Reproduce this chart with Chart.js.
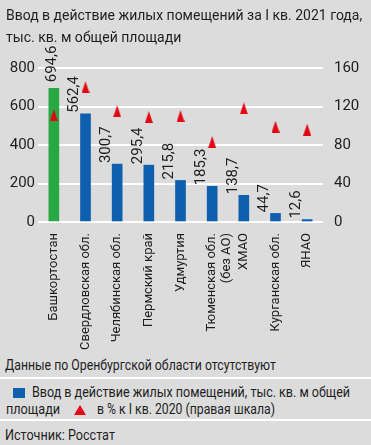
<!DOCTYPE html>
<html lang="ru">
<head>
<meta charset="utf-8">
<script src="https://cdn.jsdelivr.net/npm/chart.js@4.4.1/dist/chart.umd.min.js"></script>
<style>
  body { margin: 0; background: #dcdcdc; }
  #wrap { position: relative; width: 371px; height: 445px; overflow: hidden; background: #dcdcdc;
    font-family: Roboto, "Liberation Sans", sans-serif; color: #1e1e1e; }
  #chart { position: absolute; left: 0; top: 0; }
  .t { position: absolute; display: inline-block; white-space: nowrap; font-size: 15px; line-height: 18px;
    transform-origin: 0 0; }
  .sep { position: absolute; left: 0; width: 371px; height: 2px; background: #fff; }
  .sq { position: absolute; left: 13px; top: 388px; width: 12px; height: 10px; background: #0e5fae; }
  .tri { position: absolute; left: 74px; top: 405px; width: 0; height: 0; border-left: 6px solid transparent;
    border-right: 6px solid transparent; border-bottom: 10px solid #e30613; }
</style>
</head>
<body>
<div id="wrap">
  <canvas id="chart" width="371" height="355"></canvas>
  <div class="t" id="title1" style="left:6px; top:6px"></div>
  <div class="t" id="title2" style="left:6px; top:28px"></div>
  <div class="t" id="note" style="left:5px; top:356px"></div>
  <div class="sep" style="top:377px"></div>
  <span class="sq"></span>
  <div class="t" id="leg1" style="left:32px; top:383px"></div>
  <div class="t" id="leg2" style="left:6px; top:400px"></div>
  <span class="tri"></span>
  <div class="t" id="leg3" style="left:97px; top:400px"></div>
  <div class="sep" style="top:419px"></div>
  <div class="t" id="source" style="left:5px; top:426px"></div>
</div>
<script>
// ===== Данные =====
const regions = [
  "Башкортостан", "Свердловская обл.", "Челябинская обл.", "Пермский край", "Удмуртия",
  ["Тюменская обл.", "(без АО)"], "ХМАО", "Курганская обл.", "ЯНАО"
];
const housing = [694.6, 562.4, 300.7, 295.4, 215.8, 185.3, 138.7, 44.7, 12.6];
const pctOf2020 = [111, 140, 115, 109, 110, 83, 118, 99, 96];
const leftTicks = [0, 200, 400, 600, 800];
const rightTicks = [0, 40, 80, 120, 160];
const seriesNames = ["Ввод в действие жилых помещений, тыс. кв. м общей площади", "в % к I кв. 2020 (правая шкала)"];
const titleLines = ["Ввод в действие жилых помещений за I кв. 2021 года,", "тыс. кв. м общей площади"];
const noteText = "Данные по Оренбургской области отсутствуют";
const sourceText = "Источник: Росстат";

const FONT = "Roboto, 'Liberation Sans', sans-serif";
const BLUE = "#0e5fae";
const GREEN = "#27a844";
const RED = "#e30613";
const TEXT = "#1e1e1e";

// ===== Тексты вокруг графика =====
function putText(id, txt, width) {
  const el = document.getElementById(id);
  el.textContent = txt;
  const s = width / el.scrollWidth;
  el.style.transform = "scaleX(" + s + ")";
}
const cut = seriesNames[0].lastIndexOf(" ");
putText("title1", titleLines[0], 356);
putText("title2", titleLines[1], 175);
putText("note", noteText, 271);
putText("leg1", seriesNames[0].slice(0, cut), 318);
putText("leg2", seriesNames[0].slice(cut + 1), 54);
putText("leg3", seriesNames[1], 178);
putText("source", sourceText, 110);

// ===== Треугольник-маркер =====
const tri = document.createElement("canvas");
tri.width = 8;
tri.height = 12;
const tctx = tri.getContext("2d");
tctx.fillStyle = RED;
tctx.beginPath();
tctx.moveTo(4, 0);
tctx.lineTo(8, 12);
tctx.lineTo(0, 12);
tctx.closePath();
tctx.fill();

// ===== Подписи значений =====
const valueLabels = {
  id: "valueLabels",
  afterDatasetsDraw(chart) {
    const meta = chart.getDatasetMeta(1);
    const ctx = chart.ctx;
    ctx.save();
    ctx.fillStyle = TEXT;
    ctx.font = "15px " + FONT;
    ctx.textAlign = "left";
    ctx.textBaseline = "middle";
    meta.data.forEach((bar, i) => {
      const txt = housing[i].toFixed(1).replace(".", ",");
      let x = bar.x - 11;
      let y = bar.y - 1;
      if (i === 0) { x = bar.x - 2; y = bar.y - 6; }
      ctx.save();
      ctx.translate(x, y);
      ctx.rotate(-Math.PI / 2);
      ctx.fillText(txt, 0, 0);
      ctx.restore();
    });
    ctx.restore();
  }
};

new Chart(document.getElementById("chart"), {
  data: {
    labels: regions,
    datasets: [
      {
        type: "line",
        label: seriesNames[1],
        data: pctOf2020,
        yAxisID: "yR",
        showLine: false,
        pointStyle: tri,
        order: 0
      },
      {
        type: "bar",
        label: seriesNames[0],
        data: housing,
        yAxisID: "y",
        backgroundColor: housing.map((v, i) => i === 0 ? GREEN : BLUE),
        barThickness: 10,
        order: 1
      }
    ]
  },
  options: {
    responsive: false,
    animation: false,
    layout: { padding: { top: 68, left: 0, right: 0, bottom: 0 } },
    plugins: { legend: { display: false }, tooltip: { enabled: false } },
    scales: {
      x: {
        grid: { display: false },
        border: { display: false },
        ticks: {
          minRotation: 90, maxRotation: 90, autoSkip: false, padding: 3, color: TEXT,
          font: { family: FONT, size: 13, lineHeight: 1.15 }
        },
        afterFit: s => { s.height = 133; }
      },
      y: {
        position: "left",
        min: 0, max: 800,
        grid: { color: "#ffffff", lineWidth: 2, drawTicks: false },
        border: { display: false },
        ticks: {
          stepSize: 100, padding: 3, color: TEXT, font: { family: FONT, size: 15 },
          callback: v => leftTicks.includes(v) ? v : ""
        },
        afterFit: s => { s.width = 38; }
      },
      yR: {
        position: "right",
        min: 0, max: 160,
        grid: { display: false, drawTicks: false },
        border: { display: false },
        ticks: {
          stepSize: 20, padding: 11, color: TEXT, font: { family: FONT, size: 15 },
          callback: v => rightTicks.includes(v) ? v : ""
        },
        afterFit: s => { s.width = 48; }
      }
    }
  },
  plugins: [valueLabels]
});
</script>
</body>
</html>
